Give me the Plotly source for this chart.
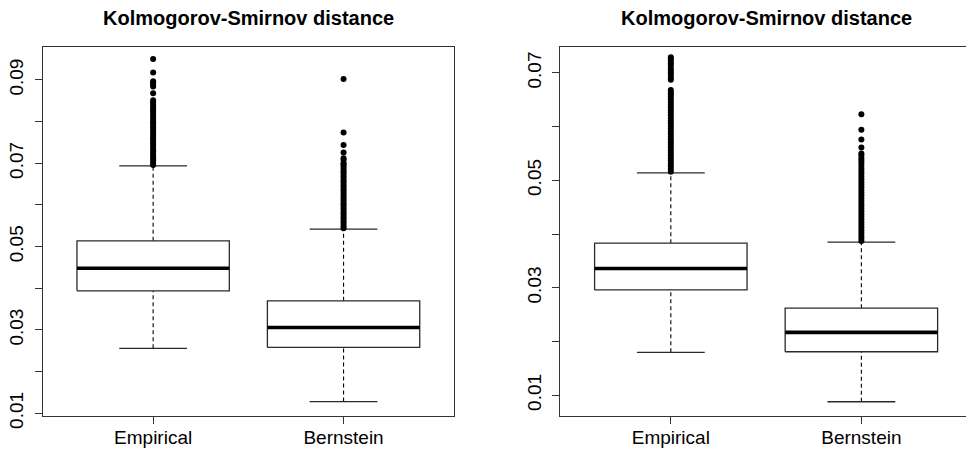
import plotly.graph_objects as go

# ---------------- data ----------------
categories = ["Empirical", "Bernstein"]

# left panel
left_q1 = [0.0394, 0.0258]
left_median = [0.0448, 0.0306]
left_q3 = [0.0514, 0.0370]
left_lower = [0.0256, 0.0128]
left_upper = [0.0694, 0.0542]
left_out_empirical = [0.0696, 0.0701, 0.0707, 0.0712, 0.0718, 0.0723, 0.0729, 0.0734, 0.0740,
                      0.0746, 0.0751, 0.0757, 0.0762, 0.0768, 0.0773, 0.0779, 0.0785, 0.0790,
                      0.0796, 0.0801, 0.0807, 0.0812, 0.0818, 0.0824, 0.0829, 0.0835, 0.0840,
                      0.0846, 0.0851, 0.0868, 0.0884, 0.0889, 0.0893, 0.0897, 0.0918, 0.0950]
left_out_bernstein = [0.0544, 0.0549, 0.0555, 0.0560, 0.0566, 0.0571, 0.0577, 0.0582, 0.0588,
                      0.0593, 0.0599, 0.0604, 0.0610, 0.0615, 0.0621, 0.0626, 0.0632, 0.0637,
                      0.0643, 0.0648, 0.0654, 0.0659, 0.0665, 0.0670, 0.0676, 0.0681, 0.0687,
                      0.0692, 0.0697, 0.0700, 0.0708, 0.0712, 0.0726, 0.0744, 0.0774, 0.0902]
left_ticks = [0.01, 0.02, 0.03, 0.04, 0.05, 0.06, 0.07, 0.08, 0.09]
left_ticklabels = ["0.01", "", "0.03", "", "0.05", "", "0.07", "", "0.09"]

# right panel
right_q1 = [0.0296, 0.0181]
right_median = [0.0336, 0.0217]
right_q3 = [0.0383, 0.0262]
right_lower = [0.0180, 0.0088]
right_upper = [0.0514, 0.0385]
right_out_empirical = [0.0516, 0.0521, 0.0526, 0.0531, 0.0536, 0.0541, 0.0546, 0.0551, 0.0556,
                       0.0561, 0.0566, 0.0571, 0.0576, 0.0581, 0.0586, 0.0591, 0.0596, 0.0601,
                       0.0606, 0.0611, 0.0616, 0.0621, 0.0626, 0.0631, 0.0636, 0.0641, 0.0646,
                       0.0651, 0.0656, 0.0660, 0.0664, 0.0668, 0.0687, 0.0691, 0.0696, 0.0700,
                       0.0704, 0.0708, 0.0714, 0.0718, 0.0722, 0.0726, 0.0729]
right_out_bernstein = [0.0387, 0.0392, 0.0397, 0.0402, 0.0407, 0.0412, 0.0417, 0.0422, 0.0427,
                       0.0432, 0.0437, 0.0442, 0.0447, 0.0452, 0.0457, 0.0462, 0.0467, 0.0472,
                       0.0477, 0.0482, 0.0487, 0.0492, 0.0497, 0.0502, 0.0507, 0.0512, 0.0517,
                       0.0522, 0.0527, 0.0532, 0.0537, 0.0541, 0.0546, 0.0550, 0.0561, 0.0576,
                       0.0594, 0.0623]
right_ticks = [0.01, 0.02, 0.03, 0.04, 0.05, 0.06, 0.07]
right_ticklabels = ["0.01", "", "0.03", "", "0.05", "", "0.07"]

title_text = "Kolmogorov-Smirnov distance"

# ---------------- styling ----------------
FONT = "Liberation Sans, Arial, sans-serif"
BOX_HALF = 0.4
STAPLE_HALF = 0.178
BOX_COLOR = "#2a2a2a"
positions = [1, 2]

fig = go.Figure()


def add_panel(q1, med, q3, lo, hi, outs, xref, yref):
    for i, c in enumerate(positions):
        # whiskers (dashed)
        fig.add_trace(go.Scatter(x=[c, c], y=[q3[i], hi[i]], mode="lines",
                                 line=dict(color="black", width=1.1, dash="4px,3px"),
                                 xaxis=xref, yaxis=yref, showlegend=False, hoverinfo="skip"))
        fig.add_trace(go.Scatter(x=[c, c], y=[lo[i], q1[i]], mode="lines",
                                 line=dict(color="black", width=1.1, dash="4px,3px"),
                                 xaxis=xref, yaxis=yref, showlegend=False, hoverinfo="skip"))
        # staples
        for v in (lo[i], hi[i]):
            fig.add_trace(go.Scatter(x=[c - STAPLE_HALF, c + STAPLE_HALF], y=[v, v], mode="lines",
                                     line=dict(color=BOX_COLOR, width=1.3),
                                     xaxis=xref, yaxis=yref, showlegend=False, hoverinfo="skip"))
        # box
        fig.add_trace(go.Scatter(x=[c - BOX_HALF, c + BOX_HALF, c + BOX_HALF, c - BOX_HALF, c - BOX_HALF],
                                 y=[q1[i], q1[i], q3[i], q3[i], q1[i]], mode="lines",
                                 line=dict(color=BOX_COLOR, width=1.3),
                                 fill="toself", fillcolor="white",
                                 xaxis=xref, yaxis=yref, showlegend=False, hoverinfo="skip"))
        # median
        fig.add_trace(go.Scatter(x=[c - BOX_HALF, c + BOX_HALF], y=[med[i], med[i]], mode="lines",
                                 line=dict(color="black", width=3.6),
                                 xaxis=xref, yaxis=yref, showlegend=False, hoverinfo="skip"))
        # outliers
        fig.add_trace(go.Scatter(x=[c] * len(outs[i]), y=outs[i], mode="markers",
                                 marker=dict(color="black", size=6, line=dict(width=0)),
                                 xaxis=xref, yaxis=yref, showlegend=False, hoverinfo="y"))


add_panel(left_q1, left_median, left_q3, left_lower, left_upper,
          [left_out_empirical, left_out_bernstein], "x", "y")
add_panel(right_q1, right_median, right_q3, right_lower, right_upper,
          [right_out_empirical, right_out_bernstein], "x2", "y2")

W, H = 966, 453
ydom = [1 - 415.7 / H, 1 - 46.7 / H]
axis_common = dict(showgrid=False, zeroline=False, linecolor="#333333", linewidth=1.3,
                   ticks="outside", ticklen=7, tickcolor="#333333", tickwidth=1.1,
                   automargin=False,
                   tickfont=dict(family=FONT, size=19, color="black"))

fig.update_layout(
    width=W, height=H,
    margin=dict(l=0, r=0, t=0, b=0, pad=0, autoexpand=False),
    paper_bgcolor="white", plot_bgcolor="white",
    xaxis=dict(domain=[42.7 / W, 454 / W], range=[0.42, 2.58], tickvals=positions,
               ticktext=categories, showline=True, mirror=True, ticklabelstandoff=-3,
               anchor="y", **axis_common),
    yaxis=dict(domain=ydom, range=[0.00942, 0.09798], tickvals=left_ticks,
               ticktext=left_ticklabels, tickangle=-90, showline=True, mirror=True,
               ticklabelstandoff=4, anchor="x", **axis_common),
    xaxis2=dict(domain=[560.3 / W, 1.0], range=[0.42, 2.549], tickvals=positions,
                ticktext=categories, showline=True, mirror=True, ticklabelstandoff=-3,
                anchor="y2", **axis_common),
    yaxis2=dict(domain=ydom, range=[0.00620, 0.07486], tickvals=right_ticks,
                ticktext=right_ticklabels, tickangle=-90, showline=True, mirror=False,
                ticklabelstandoff=4, anchor="x2", **axis_common),
    annotations=[
        dict(text=title_text, x=248.3 / W, y=1 - 18 / H, xref="paper", yref="paper",
             showarrow=False, xanchor="center", yanchor="middle",
             font=dict(family=FONT, size=20, color="black", weight="bold")),
        dict(text=title_text, x=766.0 / W, y=1 - 18 / H, xref="paper", yref="paper",
             showarrow=False, xanchor="center", yanchor="middle",
             font=dict(family=FONT, size=20, color="black", weight="bold")),
    ],
)

fig.write_html("out.html")
